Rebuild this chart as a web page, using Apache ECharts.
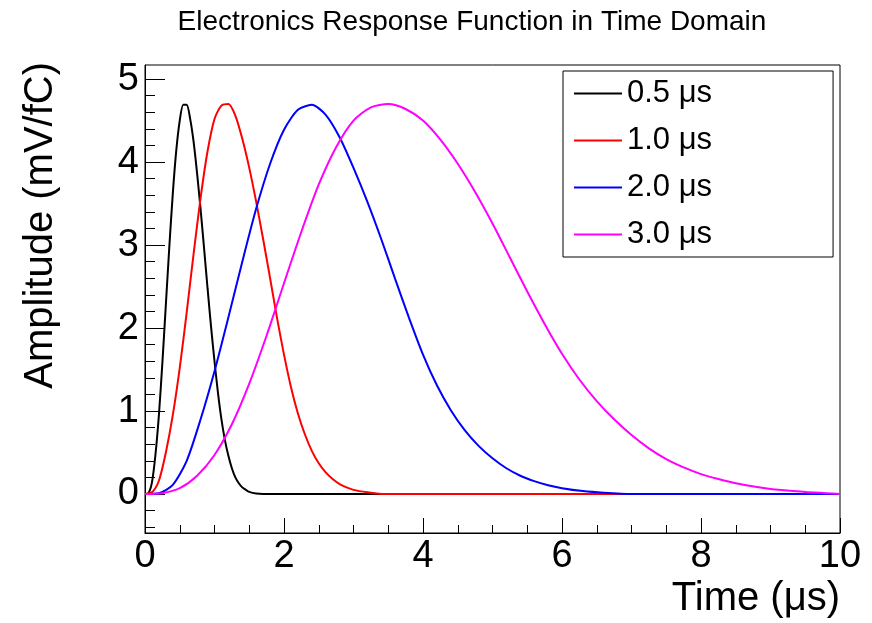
<!DOCTYPE html>
<html>
<head>
<meta charset="utf-8">
<script src="https://cdn.jsdelivr.net/npm/echarts@6/dist/echarts.min.js"></script>
<style>
  html, body { margin: 0; padding: 0; background: #fff; }
  #chart { width: 872px; height: 623px; }
</style>
</head>
<body>
<div id="chart"></div>
<script>
// Shaping times shown in the legend and their line colours
const shapingLabels = ['0.5 \u03bcs', '1.0 \u03bcs', '2.0 \u03bcs', '3.0 \u03bcs'];
const lineColors = ['#000000', '#ff0000', '#0000ff', '#ff00ff'];

// Response for 0.5 us shaping: time (us) and amplitude (mV/fC)
const tBlack = [0, 0.05, 0.1, 0.15, 0.2, 0.25, 0.3, 0.35, 0.4, 0.45, 0.5, 0.55, 0.6, 0.65, 0.7, 0.75, 0.8, 0.85, 0.9, 0.95, 1.0, 1.05, 1.1, 1.15, 1.2, 1.25, 1.3, 1.35, 1.4, 1.45, 1.5, 1.6, 1.7, 10];
const aBlack = [0, 0.01, 0.14, 0.47, 0.95, 1.58, 2.28, 2.98, 3.62, 4.14, 4.50, 4.69, 4.69, 4.52, 4.24, 3.86, 3.43, 2.96, 2.48, 2.02, 1.60, 1.22, 0.90, 0.65, 0.46, 0.31, 0.20, 0.13, 0.08, 0.05, 0.025, 0.005, 0, 0];

// Response for 1.0 us shaping
const tRed = [0, 0.1, 0.2, 0.3, 0.4, 0.5, 0.6, 0.7, 0.8, 0.9, 1.0, 1.1, 1.2, 1.3, 1.4, 1.5, 1.6, 1.7, 1.8, 1.9, 2.0, 2.1, 2.2, 2.3, 2.4, 2.5, 2.6, 2.7, 2.8, 2.9, 3.0, 3.2, 3.4, 10];
const aRed = [0, 0.02, 0.16, 0.50, 0.95, 1.52, 2.19, 2.90, 3.57, 4.13, 4.52, 4.68, 4.70, 4.56, 4.28, 3.93, 3.52, 3.07, 2.60, 2.12, 1.68, 1.29, 0.97, 0.72, 0.52, 0.37, 0.26, 0.18, 0.12, 0.08, 0.05, 0.02, 0, 0];

// Response for 2.0 us shaping
const tBlue = [0, 0.2, 0.4, 0.6, 0.8, 1.0, 1.2, 1.4, 1.6, 1.8, 2.0, 2.2, 2.4, 2.6, 2.8, 3.0, 3.2, 3.4, 3.6, 3.8, 4.0, 4.2, 4.4, 4.6, 4.8, 5.0, 5.2, 5.4, 5.6, 5.8, 6.0, 6.3, 6.6, 7.0, 10];
const aBlue = [0, 0.01, 0.11, 0.40, 0.90, 1.48, 2.13, 2.80, 3.44, 3.98, 4.39, 4.63, 4.69, 4.57, 4.30, 3.93, 3.52, 3.07, 2.59, 2.12, 1.68, 1.31, 1.01, 0.77, 0.58, 0.43, 0.31, 0.22, 0.155, 0.105, 0.07, 0.035, 0.015, 0, 0];

// Response for 3.0 us shaping
const tMagenta = [0, 0.25, 0.5, 0.75, 1.0, 1.25, 1.5, 1.75, 2.0, 2.25, 2.5, 2.75, 3.0, 3.25, 3.5, 3.75, 4.0, 4.25, 4.5, 4.75, 5.0, 5.25, 5.5, 5.75, 6.0, 6.25, 6.5, 6.75, 7.0, 7.25, 7.5, 7.75, 8.0, 8.25, 8.5, 9.0, 9.5, 9.8, 10];
const aMagenta = [0, 0.01, 0.07, 0.22, 0.47, 0.84, 1.33, 1.91, 2.54, 3.16, 3.73, 4.18, 4.50, 4.66, 4.70, 4.64, 4.50, 4.27, 3.98, 3.64, 3.26, 2.85, 2.44, 2.05, 1.69, 1.38, 1.12, 0.90, 0.71, 0.55, 0.42, 0.32, 0.24, 0.18, 0.13, 0.06, 0.025, 0.01, 0];

// Axis ticks
const yMajorTicks = [0, 1, 2, 3, 4, 5];
const yMinorTicks = [-0.4, -0.2, 0.2, 0.4, 0.6, 0.8, 1.2, 1.4, 1.6, 1.8, 2.2, 2.4, 2.6, 2.8, 3.2, 3.4, 3.6, 3.8, 4.2, 4.4, 4.6, 4.8];

const FONT = '"Liberation Sans", Arial, Helvetica, sans-serif';

function pairs(ts, as) {
  return ts.map((t, i) => [t, as[i]]);
}

const curves = [
  pairs(tBlack, aBlack),
  pairs(tRed, aRed),
  pairs(tBlue, aBlue),
  pairs(tMagenta, aMagenta)
];

const chart = echarts.init(document.getElementById('chart'), null, { renderer: 'canvas' });

chart.setOption({
  animation: false,
  backgroundColor: '#ffffff',
  textStyle: { fontFamily: FONT },
  title: {
    text: 'Electronics Response Function in Time Domain',
    left: 472,
    top: 8,
    textAlign: 'center',
    padding: 0,
    textStyle: { fontSize: 28, fontWeight: 'normal', color: '#000', fontFamily: FONT }
  },
  legend: {
    orient: 'vertical',
    left: 563,
    top: 71,
    padding: [7, 121, 7, 11],
    backgroundColor: '#ffffff',
    borderColor: '#000000',
    borderWidth: 1,
    borderRadius: 0,
    icon: 'rect',
    itemWidth: 48,
    itemHeight: 2,
    itemGap: 16,
    selectedMode: false,
    textStyle: { fontSize: 31, lineHeight: 30, color: '#000', fontFamily: FONT },
    data: shapingLabels
  },
  grid: {
    left: 145,
    right: 32,
    top: 65,
    bottom: 90,
    show: true,
    borderColor: '#000',
    borderWidth: 1,
    backgroundColor: 'transparent',
    containLabel: false,
    outerBoundsMode: 'none'
  },
  xAxis: {
    type: 'value',
    min: 0,
    max: 10,
    interval: 2,
    name: 'Time (\u03bcs)',
    nameLocation: 'end',
    nameGap: 0,
    nameMoveOverlap: false,
    nameTextStyle: {
      fontSize: 40, color: '#000', align: 'right', verticalAlign: 'top',
      padding: [46, 0, 0, 0], fontFamily: FONT
    },
    axisLine: { show: true, onZero: false, lineStyle: { color: '#000', width: 1 } },
    axisTick: { show: true, inside: true, length: 15, lineStyle: { color: '#000', width: 1 } },
    minorTick: { show: true, splitNumber: 4, length: 8, lineStyle: { color: '#000', width: 1 } },
    axisLabel: { fontSize: 38, margin: 5, color: '#000', fontFamily: FONT },
    splitLine: { show: false },
    minorSplitLine: { show: false }
  },
  yAxis: [
    {
      type: 'value',
      min: -0.47,
      max: 5.17,
      position: 'left',
      offset: 0,
      name: 'Amplitude (mV/fC)',
      nameLocation: 'end',
      nameRotate: 90,
      nameGap: 3,
      nameMoveOverlap: false,
      nameTextStyle: {
        fontSize: 40, color: '#000', align: 'right', verticalAlign: 'bottom',
        padding: [0, 0, 84, 0], fontFamily: FONT
      },
      axisLine: { show: true, onZero: false, lineStyle: { color: '#000', width: 1 } },
      axisTick: { show: true, inside: true, length: 20, customValues: yMajorTicks, lineStyle: { color: '#000', width: 1 } },
      axisLabel: { customValues: yMajorTicks, fontSize: 38, margin: 6, color: '#000', fontFamily: FONT },
      splitLine: { show: false }
    },
    {
      type: 'value',
      min: -0.47,
      max: 5.17,
      position: 'left',
      offset: 0,
      axisLine: { show: false },
      axisTick: { show: true, inside: true, length: 10, customValues: yMinorTicks, lineStyle: { color: '#000', width: 1 } },
      axisLabel: { show: false },
      splitLine: { show: false }
    }
  ],
  series: curves.map((data, i) => ({
    name: shapingLabels[i],
    type: 'line',
    xAxisIndex: 0,
    yAxisIndex: 0,
    data: data,
    symbol: 'none',
    showSymbol: false,
    smooth: 0.25,
    clip: true,
    z: 2 + i,
    color: lineColors[i],
    itemStyle: { color: lineColors[i] },
    lineStyle: { color: lineColors[i], width: 2 }
  }))
});
</script>
</body>
</html>
